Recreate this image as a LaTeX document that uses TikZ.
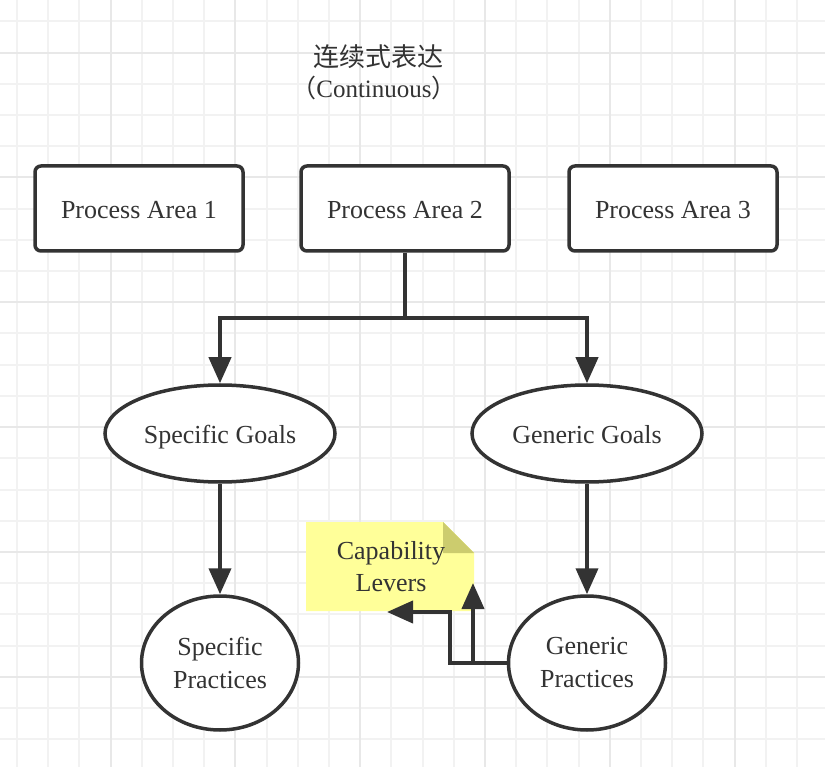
\documentclass[tikz,border=0pt]{standalone}
\usepackage{fontspec}
\setmainfont{Liberation Serif}
\newfontfamily\cjk{Noto Sans CJK SC}
\usetikzlibrary{shapes.geometric,arrows.meta}

\definecolor{custcol_33_33_33}{RGB}{51, 51, 51}
\definecolor{custcol_f2_f2_f2}{RGB}{242, 242, 242}
\definecolor{custcol_e8_e8_e8}{RGB}{232, 232, 232}
\definecolor{custcol_ff_ff_99}{RGB}{255, 255, 153}
\definecolor{custcol_cc_cc_66}{RGB}{204, 204, 110}

\tikzset{
  areabox/.style={draw=custcol_33_33_33, line width=3.5pt, fill=white, rounded corners=6pt,
    minimum width=208pt, minimum height=85pt, inner sep=0, text height=24pt, text depth=4pt,
    font=\fontsize{26pt}{30pt}\selectfont, text=custcol_33_33_33},
  goal/.style={ellipse, draw=custcol_33_33_33, line width=3.5pt, fill=white,
    minimum width=230pt, minimum height=97pt, inner sep=0, text height=24pt, text depth=4pt,
    font=\fontsize{26pt}{30pt}\selectfont, text=custcol_33_33_33},
  practice/.style={ellipse, draw=custcol_33_33_33, line width=3.5pt, fill=white, align=center,
    minimum width=157pt, minimum height=134pt, inner sep=0, font=\fontsize{26pt}{33pt}\selectfont, text=custcol_33_33_33},
  arr/.style={draw=custcol_33_33_33, line width=4.0pt, line cap=butt,
    -{Triangle[length=26pt,width=22pt]}},
  wire/.style={draw=custcol_33_33_33, line width=4.0pt},
}

\begin{document}
\begin{tikzpicture}[x=1pt,y=-1pt]
\useasboundingbox (0,0) rectangle (825,767);
\fill [white] (0,0) rectangle (825,767);
% grid
\foreach \i in {0,...,26} {
  \draw [line width=2.0pt, custcol_f2_f2_f2] (17+31.2*\i,0) -- (17+31.2*\i,767);
  \draw [line width=2.0pt, custcol_f2_f2_f2] (0,21.5+31.2*\i) -- (825,21.5+31.2*\i);
}
\foreach \i in {0,...,5} {
  \draw [line width=2.0pt, custcol_e8_e8_e8] (110.6+124.8*\i,0) -- (110.6+124.8*\i,767);
  \draw [line width=2.0pt, custcol_e8_e8_e8] (0,52.7+124.8*\i) -- (825,52.7+124.8*\i);
}
% title
\node [custcol_33_33_33, font=\cjk\fontsize{26pt}{26pt}\selectfont] (title) at (378,57) {连续式表达};
\node [custcol_33_33_33, font=\fontsize{25pt}{25pt}\selectfont] (subtitle) at (374,88) {{\cjk （}Continuous{\cjk ）}};
% process areas
\node [areabox] (pa1) at (139,208.5) {Process Area 1};
\node [areabox] (pa2) at (405,208.5) {Process Area 2};
\node [areabox] (pa3) at (673,208.5) {Process Area 3};
% goals
\node [goal] (sg) at (220,433.5) {Specific Goals};
\node [goal] (gg) at (587,433.5) {Generic Goals};
% practices
\node [practice] (sp) at (220,663) {Specific\\Practices};
\node [practice] (gp) at (587,663) {Generic\\Practices};
% note
\fill [custcol_ff_ff_99] (306,522) -- (443,522) -- (474,553) -- (474,611) -- (306,611) -- cycle;
\fill [custcol_cc_cc_66] (443,522) -- (474,553) -- (443,553) -- cycle;
\node [custcol_33_33_33, align=center, font=\fontsize{26pt}{32pt}\selectfont] (levers) at (391,567) {Capability\\Levers};
\coordinate (split) at (405,318);
\coordinate (tipA) at (387,612);
\coordinate (tipB) at (473,583);
% connectors
\draw [wire] (pa2.south) -- (split);
\draw [arr] (split) -| (sg.north);
\draw [arr] (split) -| (gg.north);
\draw [arr] (sg.south) -- (sp.north);
\draw [arr] (gg.south) -- (gp.north);
\draw [arr] (gp.west) -- ++(-57,0) |- (tipA);
\draw [arr] (gp.west) -| (tipB);
\end{tikzpicture}
\end{document}
